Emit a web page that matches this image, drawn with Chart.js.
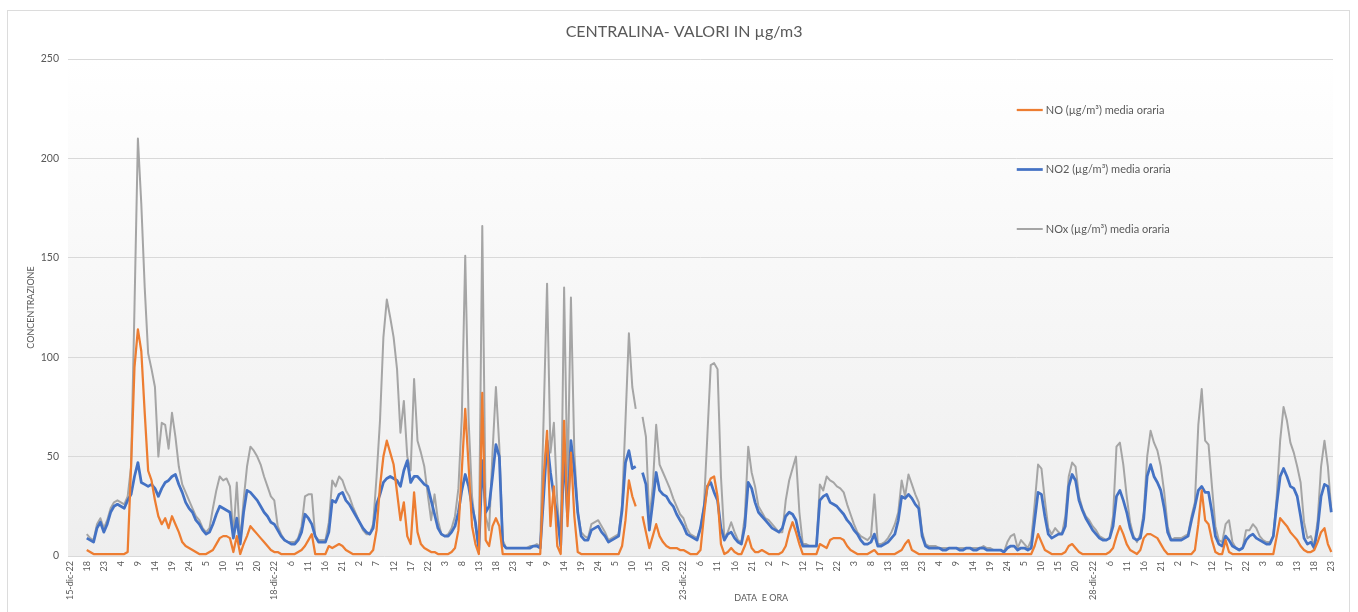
<!DOCTYPE html>
<html>
<head>
<meta charset="utf-8">
<title>Centralina - valori in µg/m3</title>
<script src="https://cdn.jsdelivr.net/npm/chart.js@4.4.1/dist/chart.umd.min.js"></script>
<style>
  html, body { margin: 0; padding: 0; background: #ffffff; }
  #wrap { position: relative; width: 1358px; height: 612px; }
  canvas { display: block; }
</style>
</head>
<body>
<div id="wrap"><canvas id="chart" width="1358" height="612"></canvas></div>
<script>
// Hourly series, 15-dic-22 h13 -> 30-dic-22 h23 (371 hours)
const START_DAY = 15;
const START_HOUR = 13;
const HOURS = 371;
const MONTH_TAG = 'dic-22';

// Category labels: date on the first hour of each day, hour number otherwise
const categories = [];
for (let k = 0; k < HOURS; k++) {
  const t = START_HOUR - 1 + k;
  const day = START_DAY + Math.floor(t / 24);
  const hour = (t % 24) + 1;
  categories.push(k === 0 || hour === 1 ? day + '-' + MONTH_TAG : String(hour));
}

const chartTitle = 'CENTRALINA- VALORI IN µg/m3';
const xTitle = 'DATA  E ORA';
const yTitle = 'CONCENTRAZIONE';

const seriesNames = [
  'NO (µg/m³) media oraria',
  'NO2 (µg/m³) media oraria',
  'NOx (µg/m³) media oraria'
];

const no = [
  null,null,null,null,null,3,2,1,1,1,
  1,1,1,1,1,1,1,2,45,95,
  114,103,72,43,38,28,20,16,19,14,
  20,16,12,7,5,4,3,2,1,1,
  1,2,3,6,9,10,10,9,2,10,
  1,6,10,15,13,11,9,7,5,3,
  2,2,1,1,1,1,1,2,3,5,
  8,11,1,1,1,1,5,4,5,6,
  5,3,2,1,1,1,1,1,1,3,
  13,35,50,58,52,46,32,18,27,10,
  6,32,12,6,4,3,2,2,1,1,
  1,1,2,4,13,43,74,45,15,6,
  1,82,8,5,15,19,15,1,1,1,
  1,1,1,1,1,1,1,1,1,40,
  63,15,35,5,1,68,15,52,20,2,
  1,1,1,1,1,1,1,1,1,1,
  1,1,5,18,38,30,25,null,20,12,
  4,10,16,10,7,5,4,4,4,3,
  3,2,1,1,1,3,20,35,39,40,
  30,6,1,2,4,2,1,1,5,10,
  4,2,2,3,2,1,1,1,1,2,
  5,12,17,12,6,1,1,1,1,1,
  6,5,4,8,9,9,9,8,5,3,
  2,1,1,1,1,2,3,1,1,1,
  1,1,1,2,3,6,8,3,2,1,
  1,1,1,1,1,1,1,1,1,1,
  1,1,1,1,1,1,1,1,1,1,
  1,1,1,1,1,1,1,1,1,1,
  1,1,1,5,11,7,3,2,1,1,
  1,1,2,5,6,4,2,1,1,1,
  1,1,1,1,1,2,4,10,15,11,
  6,3,2,1,3,9,11,11,10,9,
  6,3,1,1,1,1,1,1,1,1,
  3,16,33,18,16,8,2,1,1,8,
  2,1,1,1,1,1,1,1,1,1,
  1,1,1,1,10,19,17,15,12,10,
  8,5,3,2,2,3,7,12,14,6,
  2
];

const no2 = [
  null,null,null,null,null,9,8,7,14,17,
  12,16,22,25,26,25,24,28,31,40,
  47,37,36,35,36,34,30,34,37,38,
  40,41,36,32,27,24,22,18,16,13,
  11,12,16,21,25,24,23,22,9,19,
  6,22,33,32,30,28,25,22,20,17,
  16,13,10,8,7,6,6,8,12,21,
  19,16,10,7,7,7,12,28,27,31,
  32,28,26,23,20,17,14,12,11,14,
  26,31,37,39,40,39,38,35,43,48,
  37,40,40,38,36,35,28,21,14,11,
  10,10,12,15,22,33,41,35,25,17,
  3,48,22,25,40,56,50,6,4,4,
  4,4,4,4,4,4,5,5,4,30,
  58,42,30,20,5,53,20,58,43,22,
  10,8,8,13,14,15,12,10,7,8,
  9,10,23,47,53,44,45,null,42,36,
  13,27,42,33,31,30,27,25,21,18,
  15,11,10,9,8,14,24,35,37,32,
  28,14,8,11,12,9,7,6,15,37,
  34,27,22,20,18,16,14,13,12,14,
  20,22,21,18,10,5,5,5,5,5,
  28,30,31,27,26,25,23,21,18,16,
  13,11,8,6,6,7,11,5,5,6,
  7,9,11,18,30,29,31,29,26,24,
  10,5,4,4,4,4,3,3,4,4,
  4,3,3,4,4,3,3,4,4,3,
  3,3,3,3,2,4,5,5,3,4,
  4,3,4,18,32,31,20,11,9,10,
  11,11,15,35,41,38,28,23,19,16,
  13,11,9,8,8,9,15,30,33,28,
  22,14,9,8,9,19,40,46,40,37,
  33,24,12,8,8,8,8,9,10,18,
  25,33,35,32,32,22,10,6,5,10,
  8,5,4,3,4,8,10,11,9,8,
  7,6,6,10,26,40,44,40,35,34,
  30,20,9,6,7,4,14,30,36,35,
  22
];

const nox = [
  null,null,null,null,null,11,9,8,16,19,
  14,18,24,27,28,27,26,30,45,125,
  210,177,135,102,94,85,50,67,66,54,
  72,60,45,36,32,28,24,20,18,14,
  12,14,24,33,40,38,39,35,10,37,
  7,28,45,55,53,50,46,40,35,30,
  28,15,11,8,7,7,7,9,15,30,
  31,31,10,8,8,8,17,38,35,40,
  38,33,30,25,21,17,13,11,11,16,
  40,68,110,129,120,110,94,62,78,50,
  43,89,58,52,45,31,18,31,18,11,
  10,11,14,20,34,70,151,68,30,15,
  3,166,20,13,52,85,55,8,4,4,
  4,4,4,4,4,5,5,6,5,70,
  137,52,67,27,6,135,35,130,52,22,
  12,10,9,16,17,18,15,12,8,9,
  10,11,26,68,112,85,74,null,70,60,
  18,35,66,46,42,38,34,29,25,21,
  19,14,11,10,9,14,25,60,96,97,
  94,40,9,12,17,12,8,7,20,55,
  42,35,25,22,19,18,16,14,12,12,
  28,38,44,50,22,6,6,5,5,5,
  36,33,40,38,37,35,34,32,26,21,
  16,12,10,9,8,10,31,6,6,7,
  9,12,16,22,38,30,41,36,31,27,
  12,6,5,5,5,4,4,4,4,4,
  4,4,4,4,4,4,4,4,5,4,
  4,3,3,3,2,7,10,11,4,8,
  6,4,8,26,46,44,28,14,11,14,
  12,11,20,40,47,45,30,24,20,18,
  15,13,10,9,8,9,20,55,57,46,
  30,17,10,7,11,22,50,63,57,53,
  45,32,15,8,9,9,9,10,11,20,
  27,66,84,58,56,35,15,8,7,16,
  18,7,4,3,4,13,13,16,14,10,
  8,7,7,10,30,58,75,68,57,52,
  45,37,17,9,10,5,18,45,58,45,
  23
];

const yTicks = { min: 0, max: 250, step: 50 };

const TEXT = '#595959';
const FONT = 'Lato, "Open Sans", "DejaVu Sans", sans-serif';
const COLORS = ['#ED7D31', '#4472C4', '#A5A5A5'];
const WIDTHS = [2.25, 2.75, 2];

// Frame, white background and the grey gradient behind the plot
const backdrop = {
  id: 'backdrop',
  beforeDraw(chart) {
    const { ctx, chartArea: a, width, height } = chart;
    ctx.save();
    ctx.fillStyle = '#ffffff';
    ctx.fillRect(0, 0, width, height);
    ctx.strokeStyle = '#dcdcdc';
    ctx.lineWidth = 1;
    ctx.strokeRect(7.5, 10.5, width - 16, height + 10);
    const g = ctx.createLinearGradient(0, a.top, 0, a.bottom);
    g.addColorStop(0, '#ffffff');
    g.addColorStop(1, '#eeeeee');
    ctx.fillStyle = g;
    ctx.fillRect(a.left, a.top, a.right - a.left, a.bottom - a.top);
    ctx.restore();
  }
};

// Chart title, legend inside the plot (right side) and the category-axis title
const overlay = {
  id: 'overlay',
  afterDraw(chart) {
    const { ctx, chartArea: a } = chart;
    const w = a.right - a.left;
    ctx.save();
    ctx.fillStyle = TEXT;
    ctx.textAlign = 'center';
    ctx.textBaseline = 'middle';

    ctx.font = '16px ' + FONT;
    ctx.fillText(chartTitle, a.left + w * 0.487, 32);

    ctx.font = '9px ' + FONT;
    ctx.fillText(xTitle, a.left + w * 0.548, 598);

    const lx = a.left + w * 0.75;
    ctx.textAlign = 'left';
    ctx.font = '11px ' + FONT;
    chart.data.datasets.forEach((ds, i) => {
      const y = a.top + 51 + i * 59.5;
      ctx.strokeStyle = ds.borderColor;
      ctx.lineWidth = ds.borderWidth;
      ctx.beginPath();
      ctx.moveTo(lx, y);
      ctx.lineTo(lx + 26, y);
      ctx.stroke();
      ctx.fillStyle = TEXT;
      ctx.fillText(ds.label, lx + 29, y);
    });
    ctx.restore();
  }
};

const datasets = [no, no2, nox].map((values, i) => ({
  label: seriesNames[i],
  data: values,
  borderColor: COLORS[i],
  backgroundColor: COLORS[i],
  borderWidth: WIDTHS[i],
  pointRadius: 0,
  pointHoverRadius: 0,
  tension: 0,
  spanGaps: false,
  borderJoinStyle: 'round',
  fill: false
}));

new Chart(document.getElementById('chart'), {
  type: 'line',
  data: { labels: categories, datasets },
  options: {
    responsive: false,
    animation: false,
    events: [],
    layout: { padding: { left: 0, right: 25, top: 59, bottom: 0 } },
    plugins: {
      legend: { display: false },
      tooltip: { enabled: false },
      title: { display: false }
    },
    scales: {
      x: {
        type: 'category',
        offset: true,
        grid: { display: false, drawTicks: false },
        border: { display: false },
        ticks: {
          autoSkip: false,
          minRotation: 90,
          maxRotation: 90,
          padding: 5,
          color: TEXT,
          font: { family: FONT, size: 9 },
          callback(value, index) {
            return index % 5 === 0 ? this.getLabelForValue(value) : null;
          }
        },
        afterFit(scale) { scale.height = 56; }
      },
      y: {
        min: yTicks.min,
        max: yTicks.max,
        grid: { color: '#d9d9d9', lineWidth: 1, drawTicks: false },
        border: { display: false },
        ticks: {
          stepSize: yTicks.step,
          padding: 9,
          color: TEXT,
          font: { family: FONT, size: 10.5 }
        },
        title: {
          display: true,
          text: yTitle,
          color: TEXT,
          font: { family: FONT, size: 9 },
          padding: { top: 26, bottom: 0 }
        },
        afterFit(scale) { scale.width = 68; }
      }
    }
  },
  plugins: [backdrop, overlay]
});
</script>
</body>
</html>
